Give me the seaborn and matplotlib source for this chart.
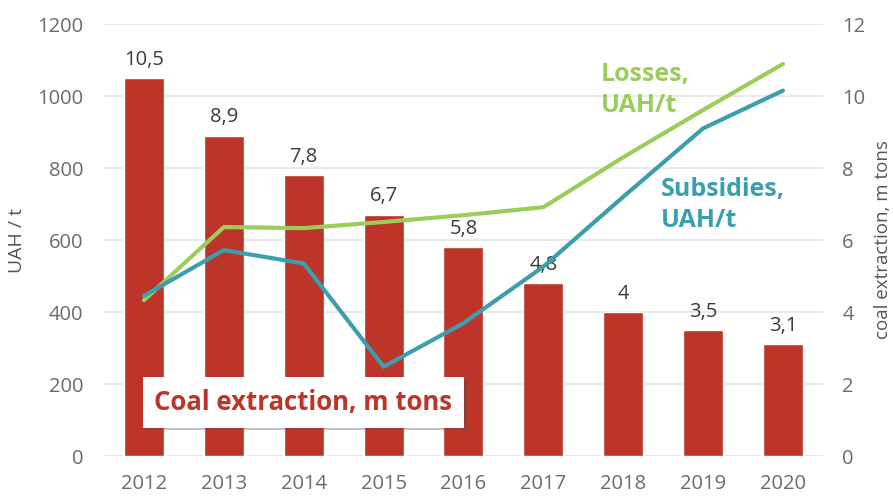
import numpy as np
import pandas as pd
import matplotlib
matplotlib.use('Agg')
import matplotlib.pyplot as plt
import matplotlib.patheffects as pe
import seaborn as sns

# Chart data
years = ['2012', '2013', '2014', '2015', '2016', '2017', '2018', '2019', '2020']
coal_extraction = [10.5, 8.9, 7.8, 6.7, 5.8, 4.8, 4.0, 3.5, 3.1]
coal_labels = ['10,5', '8,9', '7,8', '6,7', '5,8', '4,8', '4', '3,5', '3,1']
losses = [433, 636, 633, 650, 669, 691, 830, 961, 1089]
subsidies = [445, 572, 535, 248, 369, 526, 720, 910, 1015]

bar_color = '#bd3428'
green = '#9ccd5a'
teal = '#3b9fae'
tick_color = '#6b6b6b'

sns.set_style('white')
plt.rcParams['font.family'] = ['Open Sans', 'DejaVu Sans']

df = pd.DataFrame({'year': years, 'coal': coal_extraction,
                   'idx': np.arange(len(years)),
                   'losses': losses, 'subsidies': subsidies})

fig = plt.figure(figsize=(8.93, 4.96), dpi=100)
ax2 = fig.add_axes([0.1165, 0.0806, 0.805, 0.871])  # bars, right scale
ax = ax2.twinx()                                      # lines, left scale
ax.yaxis.tick_left()
ax.yaxis.set_label_position('left')
ax2.yaxis.tick_right()
ax2.yaxis.set_label_position('right')
ax.set_zorder(ax2.get_zorder() + 1)
ax.patch.set_visible(False)

# bars for coal extraction
sns.barplot(data=df, x='year', y='coal', color=bar_color, width=0.5,
            saturation=1, ax=ax2, zorder=2)
for i, (v, lab) in enumerate(zip(coal_extraction, coal_labels)):
    ax2.annotate(lab, (i, v), xytext=(0, 6), textcoords='offset points',
                 ha='center', va='bottom', fontsize=14.5, color='#3a3a3a')

ax2.set_ylim(0, 12)
ax2.set_yticks(range(0, 13, 2))
ax2.set_axisbelow(True)
ax2.grid(axis='y', color='#e6e6e6', linewidth=1.2)
ax2.set_xlim(-0.5, 8.5)
ax2.set_xlabel('')
ax2.set_ylabel('coal extraction, m tons', fontsize=13.5, color='#555555', labelpad=6)

# lines for losses and subsidies
sns.lineplot(data=df, x='idx', y='losses', color=green, linewidth=3, ax=ax)
sns.lineplot(data=df, x='idx', y='subsidies', color=teal, linewidth=3, ax=ax)
ax.set_ylim(0, 1200)
ax.set_yticks(range(0, 1201, 200))
ax.set_xlim(-0.5, 8.5)
ax.set_ylabel('UAH / t', fontsize=14, color='#555555', labelpad=8)
ax.set_xlabel('')

for a in (ax, ax2):
    for s in a.spines.values():
        s.set_visible(False)
    a.tick_params(length=0, labelsize=14.5, colors=tick_color)
ax.tick_params(axis='y', pad=15)
ax2.tick_params(axis='y', pad=14)
ax2.tick_params(axis='x', pad=13)

# series labels
ax.text(0.691, 0.912, 'Losses,\nUAH/t', transform=ax.transAxes, ha='left', va='top',
        fontsize=18, fontweight='bold', color=green, linespacing=1.3)
ax.text(0.775, 0.646, 'Subsidies,\nUAH/t', transform=ax.transAxes, ha='left', va='top',
        fontsize=18, fontweight='bold', color=teal, linespacing=1.3)

t = ax.text(0.277, 0.124, 'Coal extraction, m tons', transform=ax.transAxes,
            ha='center', va='center', fontsize=18.5, fontweight='bold', color=bar_color,
            bbox=dict(boxstyle='square,pad=0.45', facecolor='white', edgecolor='none'),
            zorder=5)
t.get_bbox_patch().set_path_effects([pe.SimplePatchShadow(offset=(2, -2), alpha=0.35),
                                     pe.Normal()])

fig.savefig('out.png', dpi=100)
